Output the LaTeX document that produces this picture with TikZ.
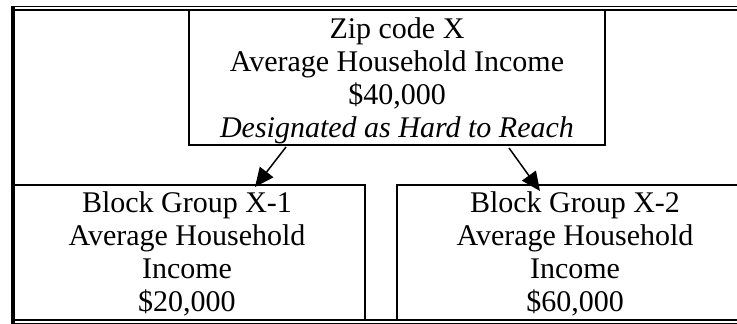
\documentclass[tikz,border=0pt]{standalone}
\usepackage{fontspec}
\setmainfont{Liberation Serif}
\usetikzlibrary{arrows.meta}
\begin{document}
\begin{tikzpicture}[x=1pt,y=-1pt,
  boxline/.style={line width=2pt},
  thinrule/.style={line width=1.2pt},
  thickrule/.style={line width=2.2pt},
  label/.style={inner sep=0pt,anchor=base,align=center,
    font=\fontsize{30}{33}\selectfont},
  link/.style={line width=1.5pt,-{Triangle[length=19pt,width=17pt]}}]
\useasboundingbox (0,0) rectangle (737,324);

% outer frame: heavy left side, double rules top and bottom
\fill (11,6) rectangle (14.8,324);
\draw[thinrule] (11,6.5) -- (737,6.5);
\draw[thickrule] (14,9.8) -- (737,9.8);
\draw[thickrule] (14,320) -- (737,320);
\draw[thinrule] (11,323.4) -- (737,323.4);

% top box
\draw[boxline] (189,9.8) -- (189,144.5) -- (605,144.5) -- (605,9.8);
% lower boxes
\draw[boxline] (14,185) -- (365,185) -- (365,320);
\draw[boxline] (737,185) -- (397,185) -- (397,320);

% the base anchor of each text block sits on its last line
\node[label] (zip) at (397,137)
  {Zip code X\\Average Household Income\\\$40,000\\\textit{Designated as Hard to Reach}};
\node[label] (bg1) at (187,311)
  {Block Group X-1\\Average Household\\Income\\\$20,000};
\node[label] (bg2) at (575,311)
  {Block Group X-2\\Average Household\\Income\\\$60,000};

\coordinate (zipL) at (286,147);
\coordinate (zipR) at (509,148);
\coordinate (bg1top) at (255,187);
\coordinate (bg2top) at (540,191);
\draw[link] (zipL) -- (bg1top);
\draw[link] (zipR) -- (bg2top);
\end{tikzpicture}
\end{document}
